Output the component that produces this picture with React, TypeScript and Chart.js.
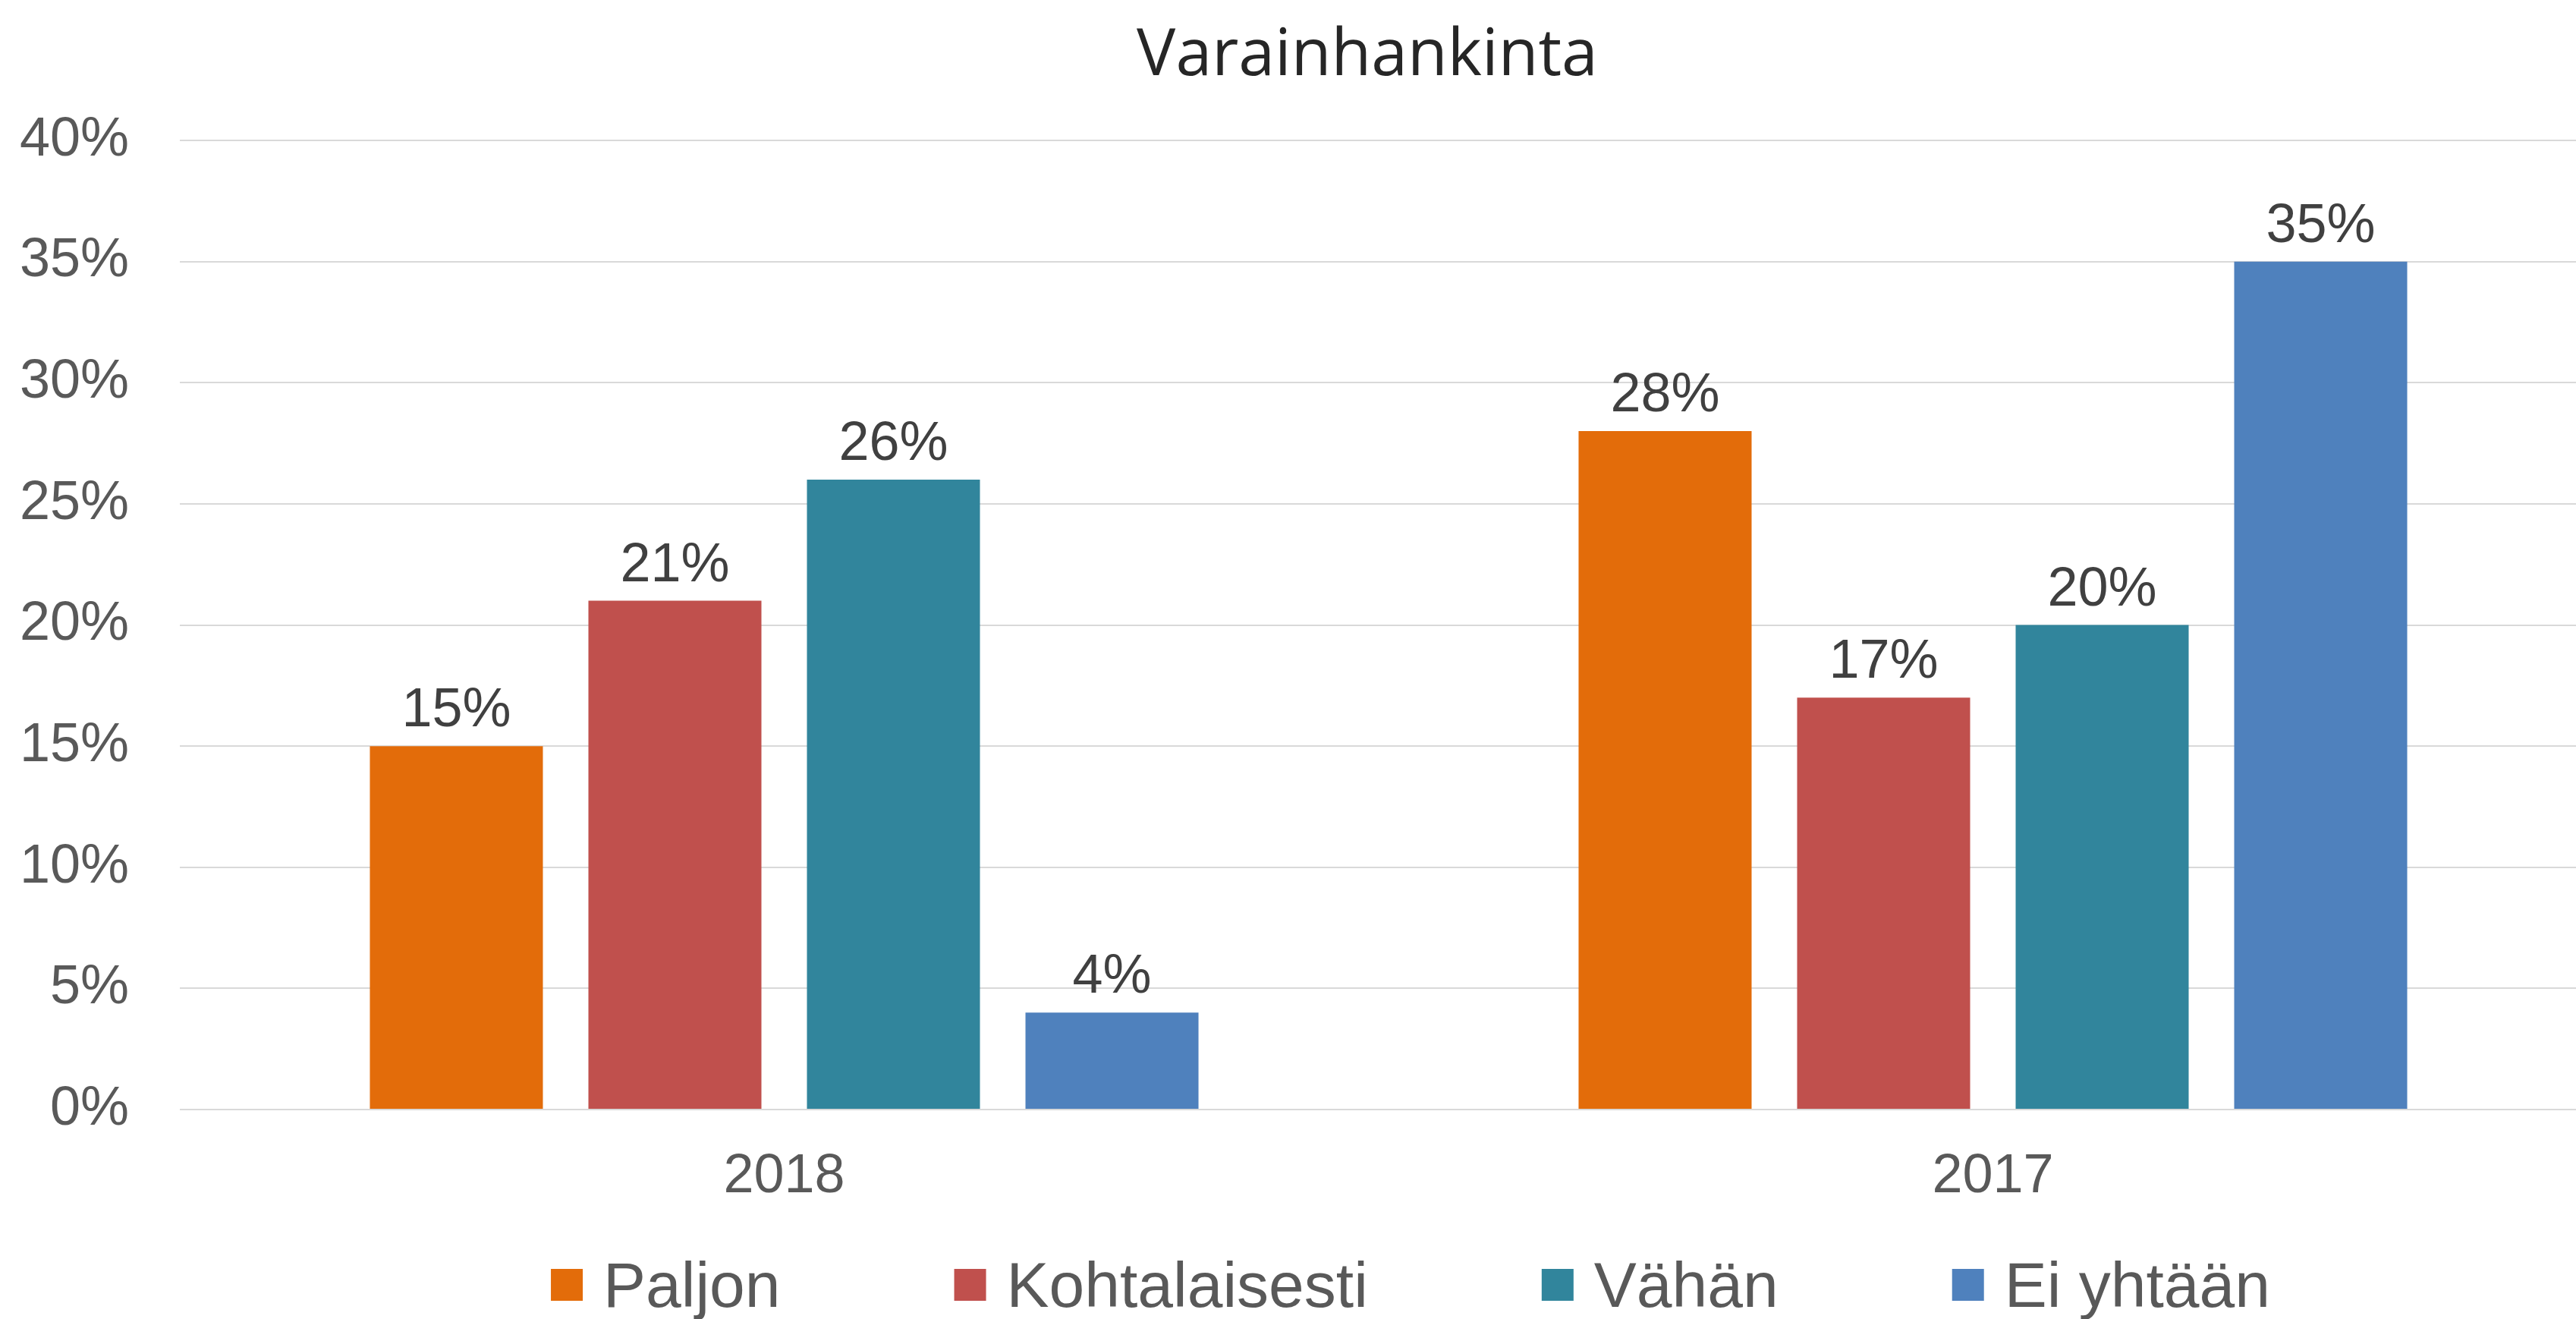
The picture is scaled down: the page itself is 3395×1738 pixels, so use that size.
import React, { useEffect, useRef } from "react";
import { Chart, registerables } from "chart.js";

Chart.register(...registerables);

const TITLE = "Varainhankinta";
const CATEGORIES = ["2018", "2017"];
const SERIES_LABELS = ["Paljon", "Kohtalaisesti", "Vähän", "Ei yhtään"];
const PALJON = [15, 28];
const KOHTALAISESTI = [21, 17];
const VAHAN = [26, 20];
const EI_YHTAAN = [4, 35];
const SERIES_COLORS = ["#E36C0A", "#C0504D", "#31859C", "#4F81BD"];
const Y_MIN = 0;
const Y_MAX = 40;
const Y_STEP = 5;

const TICK_FONT = "'Liberation Sans', Arial, sans-serif";

const titlePlugin = {
  id: "customTitle",
  afterDraw(chart: any) {
    const ctx = chart.ctx;
    ctx.save();
    ctx.font = "86px 'Open Sans', sans-serif";
    ctx.fillStyle = "#262626";
    ctx.textAlign = "center";
    ctx.textBaseline = "alphabetic";
    ctx.fillText(TITLE, 1802, 99);
    ctx.restore();
  },
};

const dataLabelPlugin = {
  id: "dataLabels",
  afterDatasetsDraw(chart: any) {
    const ctx = chart.ctx;
    ctx.save();
    ctx.font = `72px ${TICK_FONT}`;
    ctx.fillStyle = "#404040";
    ctx.textAlign = "center";
    ctx.textBaseline = "alphabetic";
    chart.data.datasets.forEach((ds: any, i: number) => {
      const meta = chart.getDatasetMeta(i);
      meta.data.forEach((bar: any, j: number) => {
        ctx.fillText(`${ds.data[j]}%`, bar.x, bar.y - 26);
      });
    });
    ctx.restore();
  },
};

const legendPlugin = {
  id: "customLegend",
  afterDraw(chart: any) {
    const ctx = chart.ctx;
    ctx.save();
    const fontSize = 84;
    ctx.font = `${fontSize}px ${TICK_FONT}`;
    const box = 42;
    const textGap = 27;
    const itemGap = 229;
    const items = chart.data.datasets.map((ds: any) => ({
      label: ds.label,
      color: ds.backgroundColor,
      w: ctx.measureText(ds.label).width,
    }));
    let total = 0;
    items.forEach((it: any, i: number) => {
      total += box + textGap + it.w + (i < items.length - 1 ? itemGap : 0);
    });
    let x = 1859 - total / 2;
    const baseline = 1722;
    items.forEach((it: any) => {
      ctx.fillStyle = it.color;
      ctx.fillRect(x, 1672, box, box);
      ctx.fillStyle = "#595959";
      ctx.textAlign = "left";
      ctx.textBaseline = "alphabetic";
      ctx.fillText(it.label, x + box + textGap, baseline);
      x += box + textGap + it.w + itemGap;
    });
    ctx.restore();
  },
};

export default function App() {
  const canvasRef = useRef<HTMLCanvasElement | null>(null);

  useEffect(() => {
    if (!canvasRef.current) return;
    const seriesValues = [PALJON, KOHTALAISESTI, VAHAN, EI_YHTAAN];
    const chart = new Chart(canvasRef.current, {
      type: "bar",
      data: {
        labels: CATEGORIES,
        datasets: SERIES_LABELS.map((label, i) => ({
          label,
          data: seriesValues[i],
          backgroundColor: SERIES_COLORS[i],
          borderWidth: 0,
          categoryPercentage: 0.7232,
          barPercentage: 0.7917,
        })),
      },
      options: {
        responsive: false,
        animation: false,
        devicePixelRatio: 1,
        layout: { padding: { top: 185, bottom: 126, left: 0, right: 0 } },
        plugins: {
          legend: { display: false },
          title: { display: false },
          tooltip: { enabled: false },
        },
        scales: {
          x: {
            grid: { display: false, drawTicks: false },
            border: { display: false },
            ticks: {
              padding: 46,
              color: "#595959",
              font: { family: TICK_FONT, size: 72 },
            },
            afterFit(scale: any) {
              scale.height = 150;
            },
          },
          y: {
            min: Y_MIN,
            max: Y_MAX,
            grid: { color: "#D9D9D9", lineWidth: 2, drawTicks: false },
            border: { display: false },
            ticks: {
              stepSize: Y_STEP,
              padding: 67,
              color: "#595959",
              font: { family: TICK_FONT, size: 72 },
              callback: (v: any) => `${v}%`,
            },
            afterFit(scale: any) {
              scale.width = 237;
            },
          },
        },
      },
      plugins: [dataLabelPlugin, titlePlugin, legendPlugin],
    } as any);
    return () => chart.destroy();
  }, []);

  return (
    <div
      style={{
        position: "fixed",
        left: 0,
        top: 0,
        width: 3395,
        height: 1738,
        overflow: "hidden",
        background: "#ffffff",
      }}
    >
      <canvas ref={canvasRef} width={3423} height={1738} style={{ display: "block" }} />
    </div>
  );
}
